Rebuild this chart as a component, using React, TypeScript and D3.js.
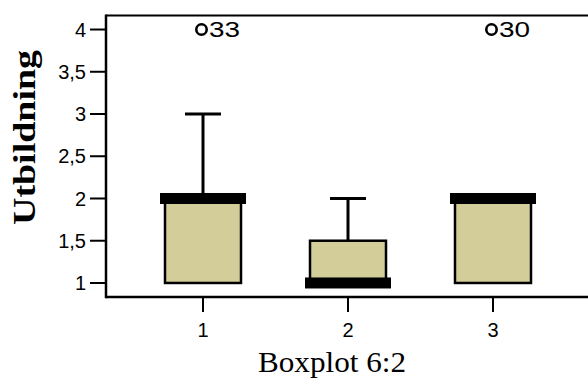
import React from "react";
import * as d3 from "d3";

// Boxplot data for the three groups
const categories = ["1", "2", "3"];
const whiskerLow = [1, 1, 1];
const quartile1 = [1, 1, 1];
const medians = [2, 1, 2];
const quartile3 = [2, 1.5, 2];
const whiskerHigh = [3, 2, 2];
const outlierCategories = ["1", "3"];
const outlierValues = [4, 4];
const outlierLabels = ["33", "30"];

const yTicks = [1, 1.5, 2, 2.5, 3, 3.5, 4];
const yTickLabels = ["1", "1,5", "2", "2,5", "3", "3,5", "4"];

const W = 588;
const H = 378;
const frame = { left: 106, right: 590, top: 15.5, bottom: 297 };
const sans = "'Liberation Sans', Arial, sans-serif";
const serif = "'Liberation Serif', 'Times New Roman', serif";

export default function App() {
  const x = d3
    .scalePoint<string>()
    .domain(categories)
    .range([frame.left, frame.right])
    .padding(0.669);
  const y = d3.scaleLinear().domain([0.834, 4.166]).range([frame.bottom, frame.top]);

  const boxHalf = 38;
  const medianHalf = 43;
  const capHalf = 18;
  const fill = "#d3ce99";

  return (
    <svg
      width={W}
      height={H}
      style={{ position: "fixed", left: 0, top: 0, background: "#fff" }}
    >
      {/* boxes */}
      {categories.map((c, i) => {
        const cx = x(c)!;
        return (
          <g key={c}>
            {whiskerHigh[i] > quartile3[i] && (
              <line x1={cx} x2={cx} y1={y(quartile3[i])} y2={y(whiskerHigh[i])} stroke="#000" strokeWidth={3} />
            )}
            {whiskerLow[i] < quartile1[i] && (
              <line x1={cx} x2={cx} y1={y(quartile1[i])} y2={y(whiskerLow[i])} stroke="#000" strokeWidth={3} />
            )}
            <line x1={cx - capHalf} x2={cx + capHalf} y1={y(whiskerHigh[i])} y2={y(whiskerHigh[i])} stroke="#000" strokeWidth={3} />
            <rect
              x={cx - boxHalf}
              y={y(quartile3[i])}
              width={boxHalf * 2}
              height={y(quartile1[i]) - y(quartile3[i])}
              fill={fill}
              stroke="#000"
              strokeWidth={2.5}
            />
            <line x1={cx - capHalf} x2={cx + capHalf} y1={y(whiskerLow[i])} y2={y(whiskerLow[i])} stroke="#000" strokeWidth={2} />
            <rect
              x={cx - medianHalf}
              y={y(medians[i]) - 5.5}
              width={medianHalf * 2}
              height={11}
              fill="#000"
            />
          </g>
        );
      })}

      {/* outliers */}
      {outlierValues.map((v, i) => {
        const cx = x(outlierCategories[i])! - 1.5;
        return (
          <g key={i}>
            <circle cx={cx} cy={y(v)} r={5.2} fill="#fff" stroke="#000" strokeWidth={2.6} />
            <text
              x={cx + 7.5}
              y={y(v)}
              dy="0.36em"
              fontFamily={sans}
              fontSize={22}
              textLength={31}
              lengthAdjust="spacingAndGlyphs"
            >
              {outlierLabels[i]}
            </text>
          </g>
        );
      })}

      {/* frame */}
      <line x1={frame.left} x2={W} y1={frame.top} y2={frame.top} stroke="#000" strokeWidth={2} />
      <line x1={frame.left} x2={W} y1={frame.bottom} y2={frame.bottom} stroke="#000" strokeWidth={2.5} />
      <line x1={frame.left} x2={frame.left} y1={frame.top - 1} y2={frame.bottom + 1.25} stroke="#000" strokeWidth={2.5} />

      {/* y axis ticks */}
      {yTicks.map((t, i) => (
        <g key={t}>
          <line x1={90} x2={frame.left} y1={y(t)} y2={y(t)} stroke="#000" strokeWidth={2} />
          <text
            x={86}
            y={y(t)}
            dy="0.36em"
            textAnchor="end"
            fontFamily={sans}
            fontSize={20}
          >
            {yTickLabels[i]}
          </text>
        </g>
      ))}

      {/* x axis ticks */}
      {categories.map((c) => (
        <g key={c}>
          <line x1={x(c)!} x2={x(c)!} y1={frame.bottom} y2={312} stroke="#000" strokeWidth={2} />
          <text
            x={x(c)!}
            y={330}
            dy="0.36em"
            textAnchor="middle"
            fontFamily={sans}
            fontSize={20}
          >
            {c}
          </text>
        </g>
      ))}

      {/* axis titles */}
      <text
        x={332}
        y={372}
        textAnchor="middle"
        fontFamily={serif}
        fontSize={29}
        textLength={148}
        lengthAdjust="spacingAndGlyphs"
      >
        Boxplot 6:2
      </text>
      <text
        transform="translate(35,137.5) rotate(-90)"
        textAnchor="middle"
        fontFamily={serif}
        fontWeight="bold"
        fontSize={32}
        textLength={175}
        lengthAdjust="spacingAndGlyphs"
      >
        Utbildning
      </text>
    </svg>
  );
}
